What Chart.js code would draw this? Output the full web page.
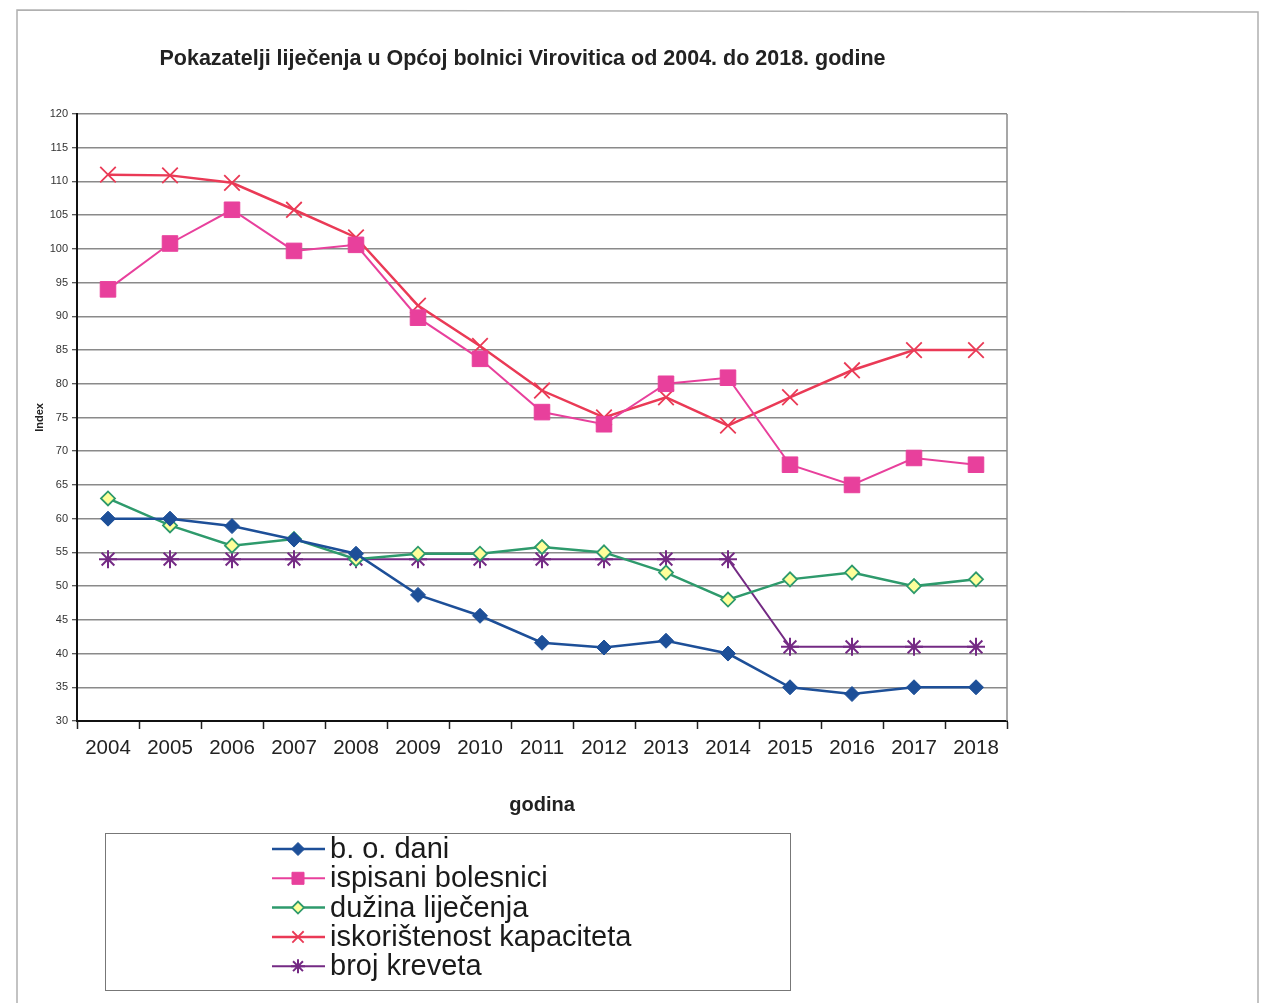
<!DOCTYPE html>
<html>
<head>
<meta charset="utf-8">
<script src="https://cdn.jsdelivr.net/npm/chart.js@4/dist/chart.umd.min.js"></script>
<style>
  html, body { margin: 0; padding: 0; background: #fff; overflow: hidden; }
  canvas { display: block; }
</style>
</head>
<body>
<canvas id="c" width="1263" height="1003"></canvas>
<script>
// ---- data ----
const years = ['2004','2005','2006','2007','2008','2009','2010','2011','2012','2013','2014','2015','2016','2017','2018'];
const boDani = [60, 60, 58.9, 56.9, 54.8, 48.7, 45.6, 41.6, 40.9, 41.9, 40, 35, 34, 35, 35];
const ispisaniBolesnici = [94, 100.8, 105.8, 99.7, 100.6, 89.8, 83.7, 75.8, 74, 80, 80.9, 68, 65, 69, 68];
const duzinaLijecenja = [63, 59, 56, 57, 54, 54.8, 54.8, 55.8, 55, 52, 48, 51, 52, 50, 51];
const iskoristenost = [111, 110.9, 109.8, 105.8, 101.7, 91.6, 85.6, 79, 75, 78, 73.8, 78, 82, 85, 85];
const brojKreveta = [54, 54, 54, 54, 54, 54, 54, 54, 54, 54, 54, 41, 41, 41, 41];
const yTicks = [30, 35, 40, 45, 50, 55, 60, 65, 70, 75, 80, 85, 90, 95, 100, 105, 110, 115, 120];
const seriesNames = ['b. o. dani', 'ispisani bolesnici', 'dužina liječenja', 'iskorištenost kapaciteta', 'broj kreveta'];
const chartTitle = 'Pokazatelji liječenja u Općoj bolnici Virovitica od 2004. do 2018. godine';
const xTitle = 'godina';
const yTitle = 'Index';

const FONT = "'Liberation Sans', Arial, sans-serif";

const legendRadius = [6.5, 8.5, 6, 8, 7];

const framePlugin = {
  id: 'frame',
  beforeDraw(chart) {
    const ctx = chart.ctx;
    ctx.save();
    ctx.fillStyle = '#fff';
    ctx.fillRect(0, 0, chart.width, chart.height);
    ctx.strokeStyle = '#b0b0b0';
    ctx.lineWidth = 1.5;
    ctx.beginPath();
    ctx.moveTo(17, 1003);
    ctx.lineTo(17, 10);
    ctx.lineTo(1258, 12);
    ctx.lineTo(1258, 1003);
    ctx.stroke();
    ctx.restore();
  },
  beforeDatasetsDraw(chart) {
    const {ctx, chartArea} = chart;
    ctx.save();
    ctx.strokeStyle = '#8a8a8a';
    ctx.lineWidth = 1.5;
    ctx.beginPath();
    ctx.moveTo(chartArea.right, chartArea.top);
    ctx.lineTo(chartArea.right, chartArea.bottom);
    ctx.stroke();
    ctx.restore();
  },
  afterDraw(chart) {
    const ctx = chart.ctx;
    ctx.save();
    ctx.strokeStyle = '#777';
    ctx.lineWidth = 1;
    ctx.strokeRect(105.5, 833.5, 685, 157);
    chart.data.datasets.forEach((ds, i) => {
      const y = 849 + i * 29.3;
      ctx.strokeStyle = ds.borderColor;
      ctx.lineWidth = ds.borderWidth;
      ctx.beginPath();
      ctx.moveTo(272, y);
      ctx.lineTo(325, y);
      ctx.stroke();
      ctx.fillStyle = ds.pointBackgroundColor;
      ctx.strokeStyle = ds.pointBorderColor;
      ctx.lineWidth = ds.pointBorderWidth;
      Chart.helpers.drawPoint(ctx, {
        pointStyle: ds.pointStyle,
        radius: legendRadius[i],
        rotation: 0,
        borderWidth: ds.pointBorderWidth
      }, 298, y);
      ctx.fillStyle = '#1a1a1a';
      ctx.font = '29px ' + FONT;
      ctx.textBaseline = 'middle';
      ctx.textAlign = 'left';
      ctx.fillText(ds.label, 330, y + 1);
    });
    ctx.restore();
  }
};

const ctx = document.getElementById('c').getContext('2d');
new Chart(ctx, {
  type: 'line',
  data: {
    labels: years,
    datasets: [
      {
        label: seriesNames[0], data: boDani,
        borderColor: '#1d4f98', borderWidth: 2.5,
        pointStyle: 'rectRot', pointRadius: 7.5,
        pointBackgroundColor: '#1d4f98', pointBorderColor: '#1d4f98', pointBorderWidth: 1
      },
      {
        label: seriesNames[1], data: ispisaniBolesnici,
        borderColor: '#e8409c', borderWidth: 2,
        pointStyle: 'rect', pointRadius: 11,
        pointBackgroundColor: '#e8409c', pointBorderColor: '#e8409c', pointBorderWidth: 1
      },
      {
        label: seriesNames[2], data: duzinaLijecenja,
        borderColor: '#2e9a6c', borderWidth: 2.5,
        pointStyle: 'rectRot', pointRadius: 7,
        pointBackgroundColor: '#ffff9a', pointBorderColor: '#2e9a6c', pointBorderWidth: 1.8
      },
      {
        label: seriesNames[3], data: iskoristenost,
        borderColor: '#ea3a56', borderWidth: 2.5,
        pointStyle: 'crossRot', pointRadius: 11,
        pointBackgroundColor: '#ea3a56', pointBorderColor: '#ea3a56', pointBorderWidth: 1.8
      },
      {
        label: seriesNames[4], data: brojKreveta,
        borderColor: '#742a84', borderWidth: 2,
        pointStyle: 'star', pointRadius: 9,
        pointBackgroundColor: '#742a84', pointBorderColor: '#742a84', pointBorderWidth: 2
      }
    ]
  },
  options: {
    responsive: false,
    animation: false,
    devicePixelRatio: 1,
    layout: { padding: { top: 20, left: 38, right: 256, bottom: 182 } },
    plugins: {
      legend: { display: false },
      tooltip: { enabled: false },
      title: {
        display: true,
        text: chartTitle,
        color: '#222',
        font: { family: FONT, size: 21.5, weight: 'bold' },
        padding: { top: 26, bottom: 42.2 }
      }
    },
    scales: {
      x: {
        offset: true,
        afterFit(scale) { scale.height = 100; },
        grid: { drawOnChartArea: false, offset: true, tickLength: 8, tickColor: '#222', tickWidth: 1.5 },
        border: { color: '#111', width: 2 },
        ticks: { color: '#222', font: { family: FONT, size: 20.5 }, padding: 7, maxRotation: 0, autoSkip: false },
        title: { display: true, text: xTitle, color: '#222', font: { family: FONT, size: 20, weight: 'bold' }, padding: { top: 0, bottom: 4 } }
      },
      y: {
        min: 30, max: 120,
        afterFit(scale) { scale.width = 39; },
        afterBuildTicks(scale) { scale.ticks = yTicks.map(v => ({ value: v })); },
        grid: { color: '#8a8a8a', lineWidth: 1.5, tickLength: 5, tickColor: '#222', tickWidth: 1 },
        border: { color: '#111', width: 2 },
        ticks: { color: '#333', font: { family: FONT, size: 11 }, padding: 4 },
        title: { display: true, text: yTitle, color: '#222', font: { family: FONT, size: 11, weight: 'bold' }, padding: { top: -4.6, bottom: 0 } }
      }
    }
  },
  plugins: [framePlugin]
});
</script>
</body>
</html>
